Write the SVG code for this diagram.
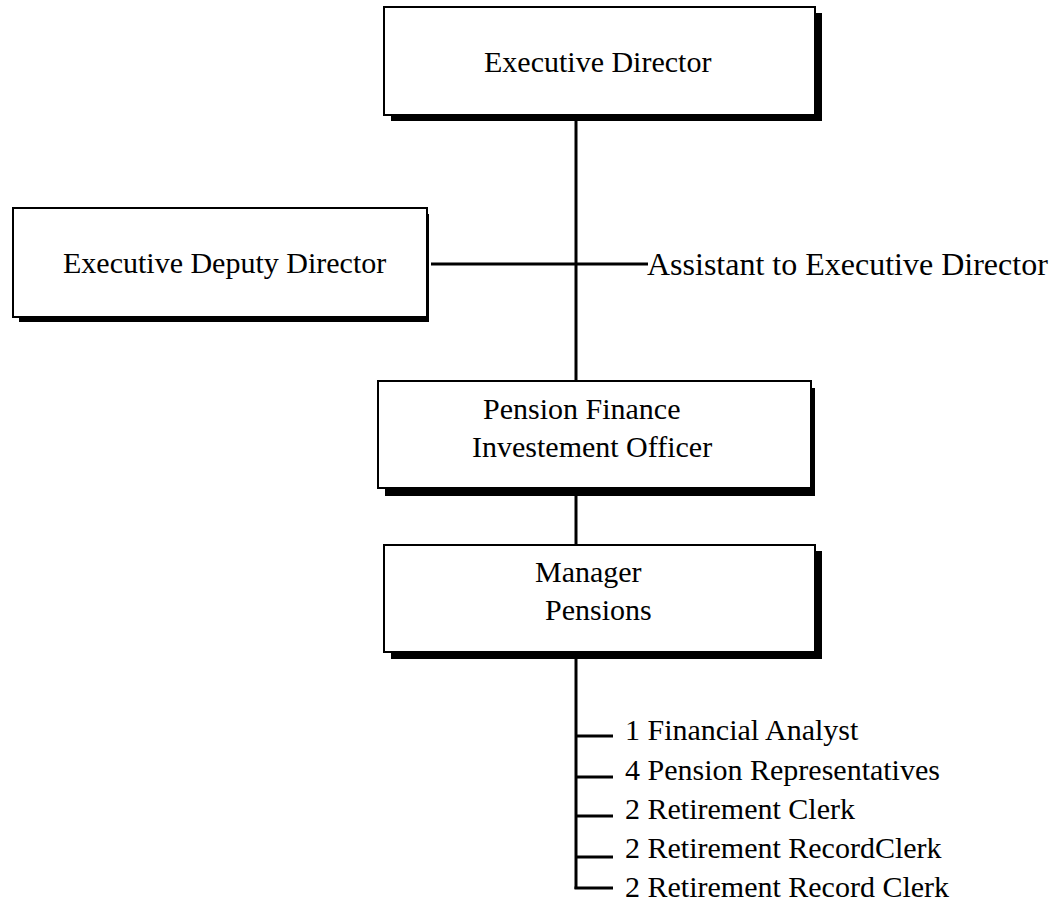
<svg xmlns="http://www.w3.org/2000/svg" width="1055" height="906" viewBox="0 0 1055 906">
<style>
.box{fill:#fff;stroke:#000;stroke-width:2}
.sh{fill:#000}
.t{font-family:"Liberation Serif","Times New Roman",serif;font-size:30px;fill:#000}
.c{stroke:#000;stroke-width:3;fill:none}
</style>
<rect width="1055" height="906" fill="#fff"/>
<g id="connectors">
<line class="c" x1="576" y1="115" x2="576" y2="381"/>
<line class="c" x1="431" y1="264" x2="648" y2="264"/>
<line class="c" x1="576" y1="488" x2="576" y2="545"/>
<line class="c" x1="576" y1="659" x2="576" y2="889"/>
<line class="c" x1="576" y1="736" x2="613" y2="736"/>
<line class="c" x1="576" y1="777" x2="613" y2="777"/>
<line class="c" x1="576" y1="816" x2="613" y2="816"/>
<line class="c" x1="576" y1="857" x2="613" y2="857"/>
<line class="c" x1="574.5" y1="888" x2="613" y2="888"/>
</g>
<g id="executive-director">
<rect class="sh" x="391" y="13" width="431" height="108"/>
<rect class="box" x="384" y="7" width="431" height="108"/>
<text class="t" x="484" y="72">Executive Director</text>
</g>
<g id="executive-deputy-director">
<rect class="sh" x="19" y="214" width="410" height="108"/>
<rect class="box" x="13" y="208" width="414" height="109"/>
<text class="t" x="63" y="273">Executive Deputy Director</text>
</g>
<g id="assistant">
<text class="t" x="647" y="275" style="font-size:32px">Assistant to Executive Director</text>
</g>
<g id="pension-finance">
<rect class="sh" x="385" y="388" width="430" height="108"/>
<rect class="box" x="378" y="381" width="433" height="107"/>
<text class="t" x="483" y="419">Pension Finance</text>
<text class="t" x="472" y="457">Investement Officer</text>
</g>
<g id="manager-pensions">
<rect class="sh" x="391" y="551" width="431" height="108"/>
<rect class="box" x="384" y="545" width="431" height="107"/>
<text class="t" x="535" y="582">Manager</text>
<text class="t" x="545" y="620">Pensions</text>
</g>
<g id="staff">
<text class="t" x="625" y="740">1 Financial Analyst</text>
<text class="t" x="625" y="780">4 Pension Representatives</text>
<text class="t" x="625" y="819">2 Retirement Clerk</text>
<text class="t" x="625" y="858">2 Retirement RecordClerk</text>
<text class="t" x="625" y="897">2 Retirement Record Clerk</text>
</g>
</svg>
